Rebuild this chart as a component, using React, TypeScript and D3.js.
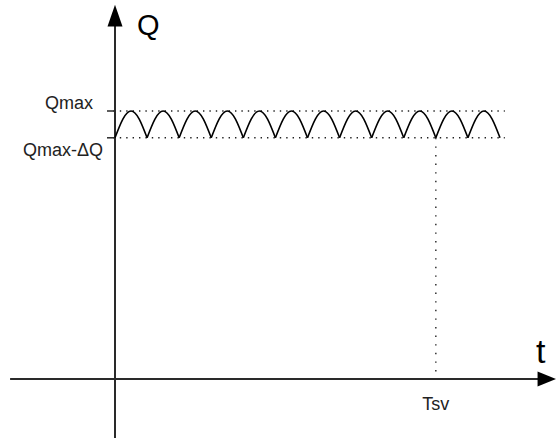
import React from "react";
import * as d3 from "d3";

// Schematic: stored quantity Q pulsing between Qmax-ΔQ and Qmax over time t
const W = 556;
const H = 438;

const qMax = 10;
const deltaQ = 1;
const cycleStarts = [0, 1, 2, 3, 4, 5, 6, 7, 8, 9, 10, 11];
const cycleLength = 1;
const tsv = 10;

const levelLabels = ["Qmax", "Qmax-ΔQ"];
const axisLabels = { y: "Q", x: "t" };
const tsvLabel = "Tsv";

const FONT = "'Liberation Sans', Arial, Helvetica, sans-serif";

export default function App() {
  const x = d3.scaleLinear().domain([0, 12]).range([115, 500]);
  const y = d3.scaleLinear().domain([0, qMax]).range([379, 111]);

  const lo = qMax - deltaQ;
  const hi = qMax;

  // each cycle is a half-sine arch built from two cubic segments
  const arches = cycleStarts.map((t0) => {
    const x0 = x(t0);
    const x1 = x(t0 + cycleLength);
    const q = (x1 - x0) / 2;
    const yl = y(lo);
    const yh = y(hi);
    const a = yl - yh;
    const p = d3.path();
    p.moveTo(x0, yl);
    p.bezierCurveTo(x0 + 0.334 * q, yl - 0.5251 * a, x0 + 0.64 * q, yh, x0 + q, yh);
    p.bezierCurveTo(x1 - 0.64 * q, yh, x1 - 0.334 * q, yl - 0.5251 * a, x1, yl);
    return p.toString();
  });

  const axisColor = "#2a2a2a";
  const x0 = x(0);
  const yOrigin = y(0);

  return (
    <svg
      width={W}
      height={H}
      style={{ position: "absolute", left: 0, top: 0, display: "block", background: "#fff" }}
    >
      {/* dotted level lines */}
      {[hi, lo].map((v, i) => (
        <line
          key={"lvl" + i}
          x1={x(-0.05)}
          x2={x(12.15)}
          y1={y(v)}
          y2={y(v)}
          stroke="#222"
          strokeWidth={1.4}
          strokeDasharray="1.4 5"
        />
      ))}
      {/* Tsv marker */}
      <line
        x1={x(tsv)}
        x2={x(tsv)}
        y1={y(lo)}
        y2={yOrigin}
        stroke="#222"
        strokeWidth={1.4}
        strokeDasharray="1.4 7.2"
      />

      {/* axes */}
      <line x1={x(-3.27)} x2={x(13.2)} y1={yOrigin} y2={yOrigin} stroke={axisColor} strokeWidth={2} />
      <line x1={x0} x2={x0} y1={y(13.3)} y2={H} stroke={axisColor} strokeWidth={2} />
      <path
        d={`M${x(13.75)},${yOrigin} L${x(13.17)},${yOrigin - 7.5} L${x(13.17)},${yOrigin + 7.5} Z`}
        fill="#000"
      />
      <path
        d={`M${x0},${y(13.96)} L${x0 - 7.5},${y(13.15)} L${x0 + 7.5},${y(13.15)} Z`}
        fill="#000"
      />

      {/* ticks at levels */}
      {[hi, lo].map((v, i) => (
        <line key={"tk" + i} x1={x0 - 8} x2={x0} y1={y(v)} y2={y(v)} stroke={axisColor} strokeWidth={1.5} />
      ))}

      {/* cycles */}
      {arches.map((d, i) => (
        <path key={"a" + i} d={d} fill="none" stroke="#000" strokeWidth={1.6} />
      ))}

      {/* labels */}
      <text x={93} y={109} textAnchor="end" fontFamily={FONT} fontSize={18} fill="#222">
        {levelLabels[0]}
      </text>
      <text x={103} y={156} textAnchor="end" fontFamily={FONT} fontSize={18} fill="#222">
        {levelLabels[1]}
      </text>
      <text x={x(tsv)} y={410} textAnchor="middle" fontFamily={FONT} fontSize={18} fill="#222">
        {tsvLabel}
      </text>
      <text x={137} y={35} fontFamily={FONT} fontSize={29} fill="#000">
        {axisLabels.y}
      </text>
      <text x={536} y={363} fontFamily={FONT} fontSize={34} fill="#000">
        {axisLabels.x}
      </text>
    </svg>
  );
}
